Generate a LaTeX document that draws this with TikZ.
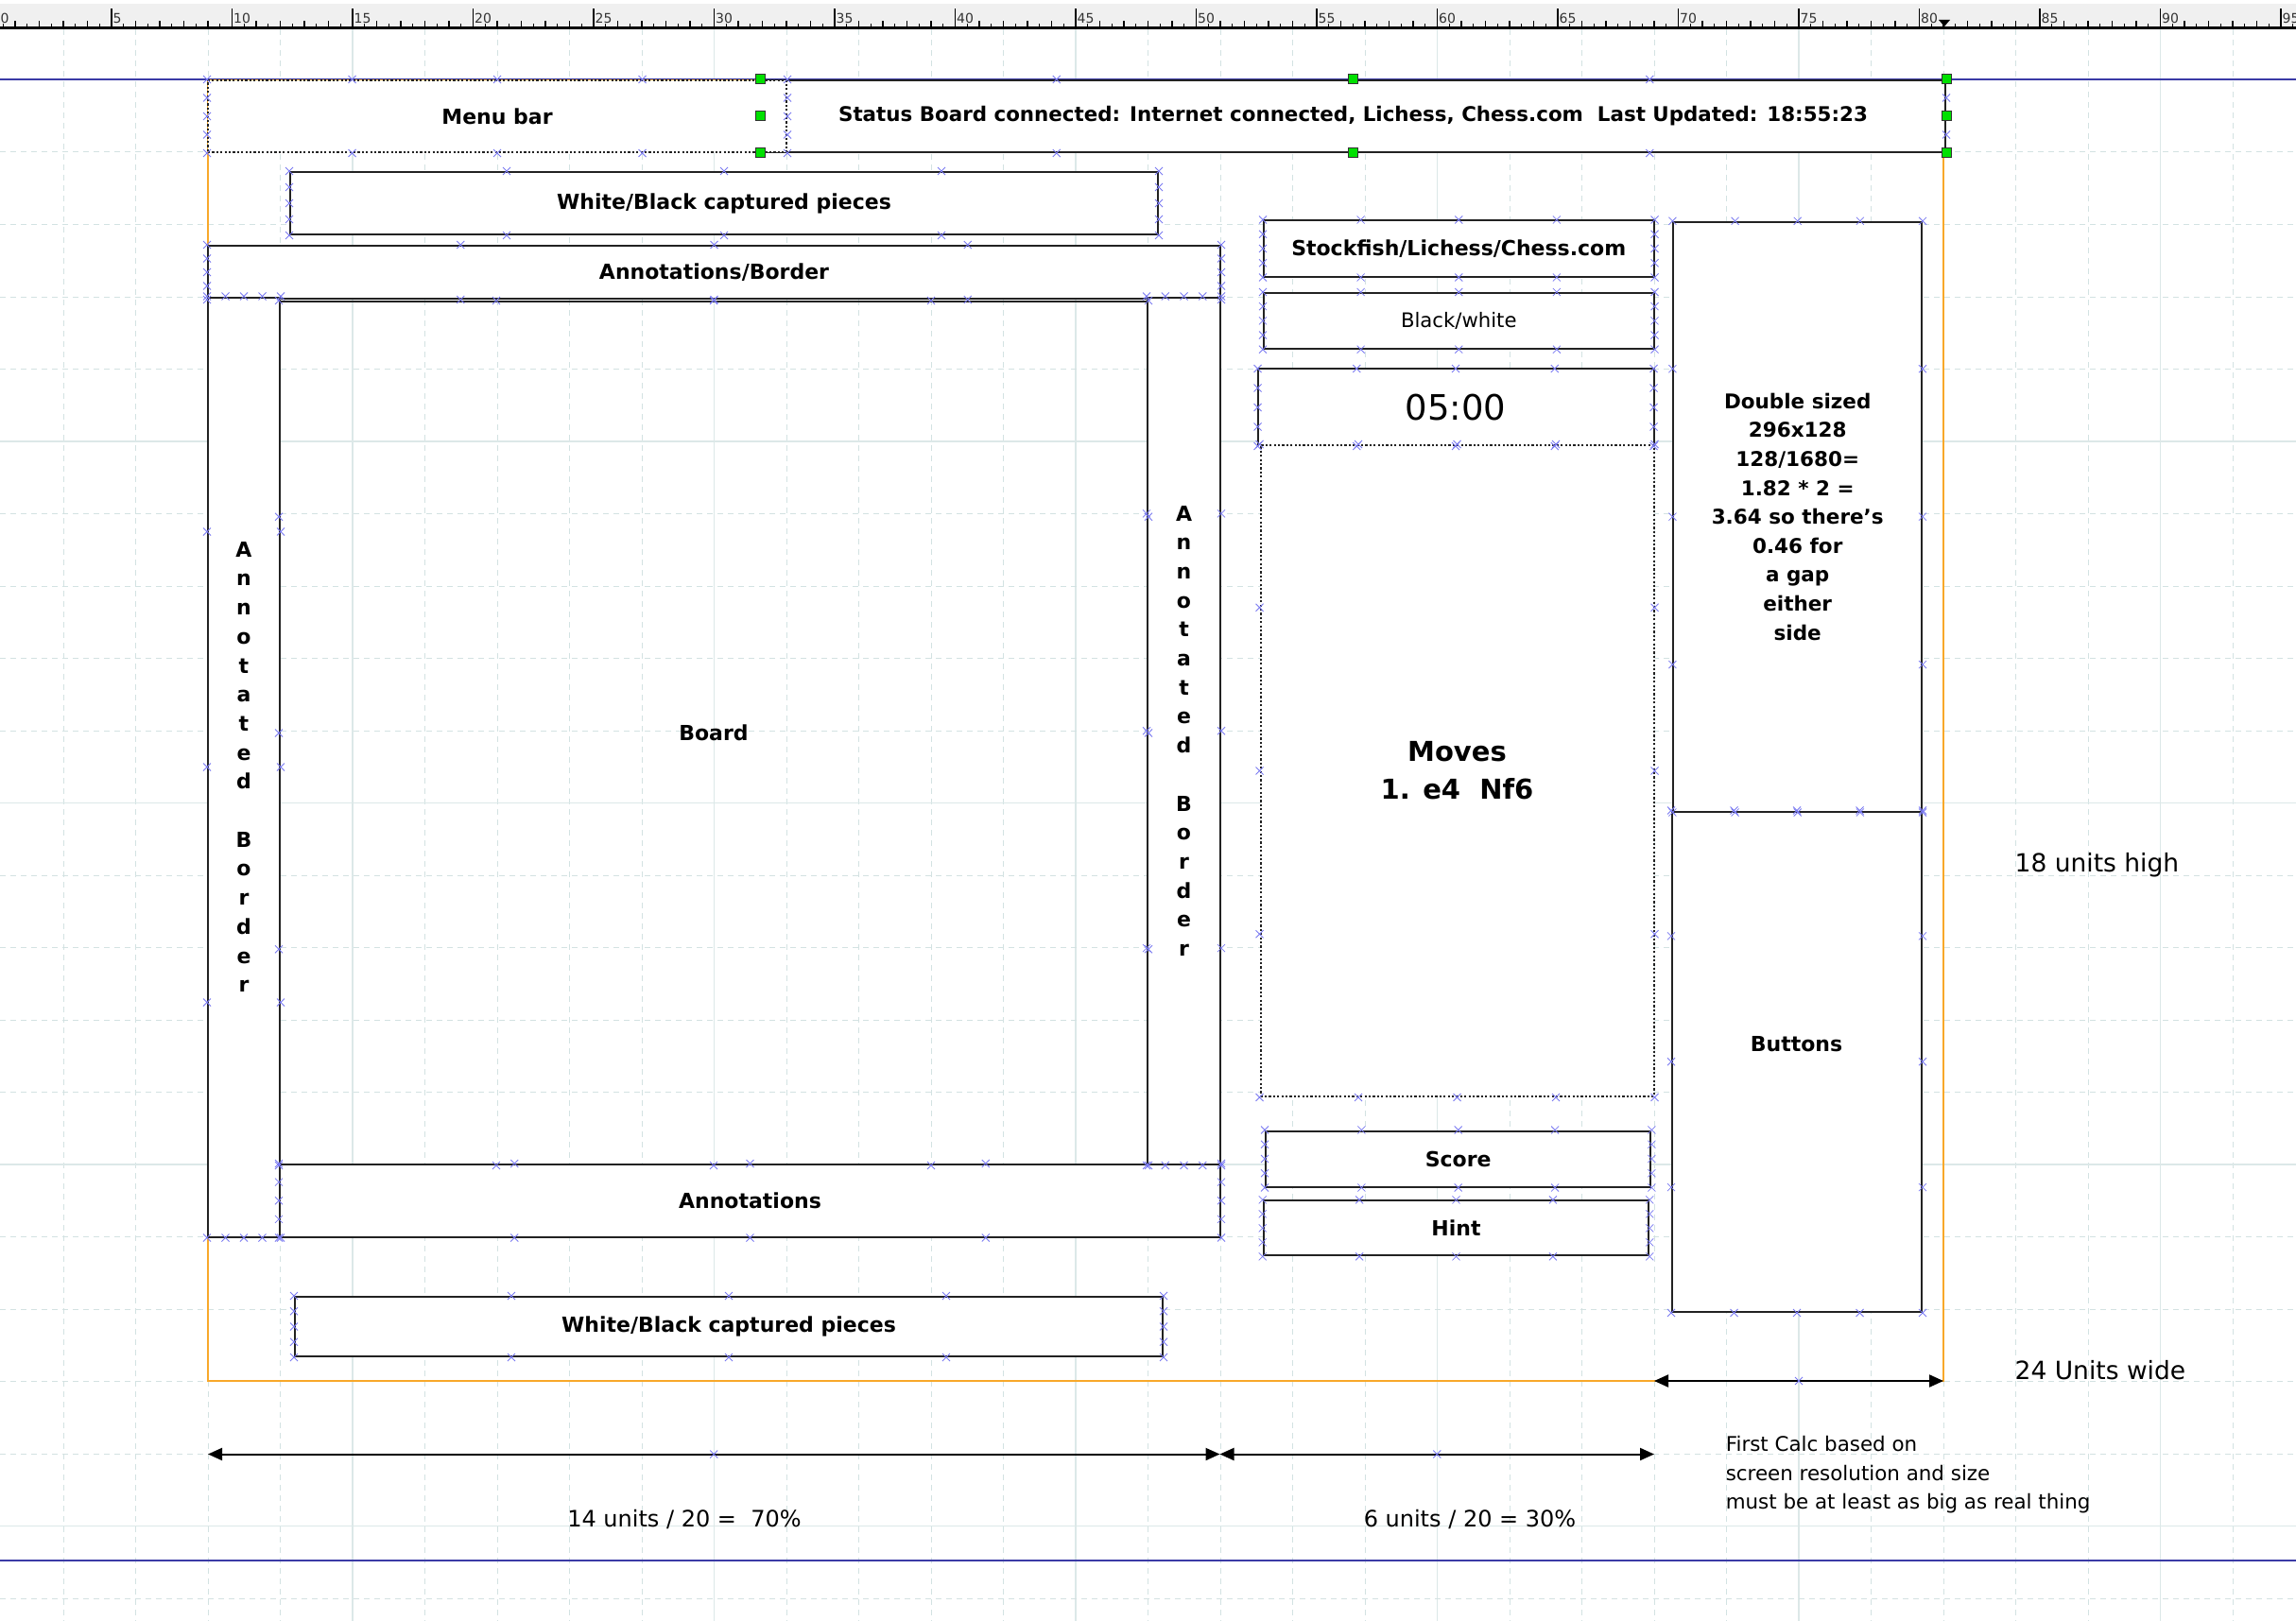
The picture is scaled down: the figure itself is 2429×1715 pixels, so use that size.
\documentclass[tikz,border=0pt]{standalone}
\usepackage{fontspec}
\setmainfont{DejaVu Sans}
\usetikzlibrary{arrows.meta,calc}

\definecolor{gridminor}{HTML}{D3E2E2}
\definecolor{gridmajor}{HTML}{DCE8E8}
\definecolor{pageblue}{HTML}{3B3BA6}
\definecolor{frameorange}{HTML}{F8A82A}
\definecolor{handlegreen}{HTML}{00E000}
\definecolor{cptblue}{HTML}{7A7AF2}
\definecolor{rulergray}{HTML}{F0F0F0}
\definecolor{edge}{HTML}{222222}

\newcommand{\fs}[2]{\fontsize{#1}{#2}\selectfont}
\newcommand{\vtext}{A\\n\\n\\o\\t\\a\\t\\e\\d\\[30.7pt]B\\o\\r\\d\\e\\r}
% little x marks on the shape outlines
\newcommand{\cpts}[1]{%
  \foreach \fr in {0,0.25,0.5,0.75,1}{
    \draw[cpt] ($(#1.north west)!\fr!(#1.north east)$) +(-4,-4) -- +(4,4) +(-4,4) -- +(4,-4);
    \draw[cpt] ($(#1.south west)!\fr!(#1.south east)$) +(-4,-4) -- +(4,4) +(-4,4) -- +(4,-4);
  }
  \foreach \fr in {0.25,0.5,0.75}{
    \draw[cpt] ($(#1.north west)!\fr!(#1.south west)$) +(-4,-4) -- +(4,4) +(-4,4) -- +(4,-4);
    \draw[cpt] ($(#1.north east)!\fr!(#1.south east)$) +(-4,-4) -- +(4,4) +(-4,4) -- +(4,-4);
  }}

\tikzset{
  box/.style={draw=edge, line width=2pt, fill=white, inner sep=0pt, align=center, font=\bfseries\fs{22}{26}},
  dotbox/.style={box, dash pattern=on 2.2pt off 2.2pt},
  plain/.style={font=\fs{21.2}{26}},
  note/.style={inner sep=0pt, font=\fs{24}{30}},
  dim/.style={line width=2pt, {Triangle[length=15pt,width=13pt]}-{Triangle[length=15pt,width=13pt]}},
  handle/.style={fill=handlegreen, draw=black!80, line width=1pt},
  cpt/.style={draw=cptblue, line width=0.8pt},
}

\begin{document}
\begin{tikzpicture}[x=1pt,y=-1pt]
  \useasboundingbox (0,0) rectangle (2429,1715);
  \fill[white] (0,0) rectangle (2429,1715);

  % ruler
  \fill[rulergray] (0,4) rectangle (2429,28.5);
  \foreach \ru in {0,...,95}{
    \draw[line width=1.2pt] ({-9.5+25.5*\ru},28.5) -- ++(0,-6);
    \draw[line width=1.2pt] ({3.25+25.5*\ru},28.5) -- ++(0,-3);
  }
  \foreach \ru in {5,10,...,95}{
    \draw[line width=1.2pt] ({-9.5+25.5*\ru},28.5) -- ++(0,-19);
    \node[anchor=base west, inner sep=0pt, font=\fs{14}{16}, text=black!80] (r\ru) at ({-8+25.5*\ru},25) {\ru};
  }
  \node[anchor=base west, inner sep=0pt, font=\fs{14}{16}, text=black!80] (r0) at (0.5,25) {0};
  \draw[line width=2.5pt] (0,29.5) -- (2429,29.5);
  \fill (2051,21) -- (2063,21) -- (2057,28) -- cycle;

  % grid
  \foreach \gk in {1,...,31}
    \draw[gridminor, line width=1pt, dash pattern=on 6pt off 5pt] ({-9.5+76.5*\gk},31) -- ++(0,1685);
  \foreach \gk in {5,10,...,30}
    \draw[gridmajor, line width=1.2pt] ({-9.5+76.5*\gk},31) -- ++(0,1685);
  \foreach \gj in {0,...,21}
    \draw[gridminor, line width=1pt, dash pattern=on 6pt off 5pt] (0,{84.5+76.5*\gj}) -- ++(2429,0);
  \foreach \gj in {5,10,...,20}
    \draw[gridmajor, line width=1.2pt] (0,{84.5+76.5*\gj}) -- ++(2429,0);

  % page border and screen frame
  \draw[pageblue, line width=2pt] (0,84.5) -- (2429,84.5);
  \draw[pageblue, line width=2pt] (0,1651) -- (2429,1651);
  \draw[frameorange, line width=1.5pt] (220,85) rectangle (2056,1461);

  % top bars
  \node[box, minimum width=1253pt, minimum height=76pt, font=\bfseries\fs{21.4}{26}] (status) at (1431.5,123) {Status Board connected: Internet connected, Lichess, Chess.com\ \ Last Updated: 18:55:23};
  \cpts{status}
  \node[dotbox, minimum width=612pt, minimum height=76pt] (menu) at (526,123) {Menu bar};

  % board column
  \node[box, minimum width=918pt, minimum height=66pt] (capTop) at (766,215) {White/Black captured pieces};
  \node[box, minimum width=1071pt, minimum height=56pt] (annTop) at (755.5,288) {Annotations/Border};
  \node[box, minimum width=76pt, minimum height=994pt, font=\bfseries\fs{22}{30.7}] (leftBorder) at (258,811.5) {\vtext};
  \node[box, fill=none, minimum width=918pt, minimum height=913pt] (board) at (755,775.5) {Board};
  \node[box, minimum width=77pt, minimum height=917.5pt, font=\bfseries\fs{22}{30.7}] (rightBorder) at (1252.5,773.25) {\vtext};
  \node[box, minimum width=995pt, minimum height=76.5pt] (annBot) at (793.5,1270.25) {Annotations};
  \node[box, minimum width=918pt, minimum height=63pt] (capBot) at (771,1403.5) {White/Black captured pieces};

  % side column
  \node[box, minimum width=412.5pt, minimum height=59pt] (engine) at (1543.25,263) {Stockfish/Lichess/Chess.com};
  \node[box, plain, minimum width=412.5pt, minimum height=58.7pt] (side) at (1543.25,339.35) {Black/white};
  \node[box, draw=none, minimum width=417pt, minimum height=80pt, font=\fs{37}{40}] (clock) at (1540,431) {05:00};
  \draw[line width=2pt, edge] (clock.south west) |- (clock.north east) -- (clock.south east);
  \node[dotbox, minimum width=416pt, minimum height=689pt, font=\bfseries\fs{29}{40}] (moves) at (1541.5,815.5) {Moves\\1. e4\ \ Nf6};
  \node[box, minimum width=407.4pt, minimum height=59pt] (score) at (1542.7,1226) {Score};
  \node[box, minimum width=407.5pt, minimum height=58pt] (hint) at (1540.5,1299.35) {Hint};

  % buttons column
  \node[box, minimum width=262.6pt, minimum height=623.7pt, font=\bfseries\fs{21.5}{30.6}] (calcNote) at (1901.7,546.65) {Double sized\\296x128\\128/1680=\\1.82 * 2 =\\3.64 so there's\\0.46 for\\a gap\\either\\side};
  \node[box, minimum width=264pt, minimum height=529.5pt] (buttons) at (1901,1123.25) {};
  \node[inner sep=0pt, font=\bfseries\fs{22}{26}] (buttonsLbl) at (1900.5,1105) {Buttons};

  \foreach \bx in {menu,capTop,annTop,leftBorder,board,rightBorder,annBot,capBot,engine,side,clock,moves,score,hint,calcNote,buttons}
    \cpts{\bx};

  % widths
  \coordinate (wL) at (220,1538.5);
  \coordinate (wM) at (1290.5,1538.5);
  \coordinate (wR) at (1750,1538.5);
  \coordinate (sL) at (1750,1461);
  \coordinate (sR) at (2056,1461);
  \draw[dim] (wL) -- (wM);
  \draw[dim] (wM) -- (wR);
  \draw[dim] (sL) -- (sR);
  \draw[cpt] ($(wL)!0.5!(wM)$) +(-4,-4) -- +(4,4) +(-4,4) -- +(4,-4);
  \draw[cpt] ($(wM)!0.5!(wR)$) +(-4,-4) -- +(4,4) +(-4,4) -- +(4,-4);
  \draw[cpt] ($(sL)!0.5!(sR)$) +(-4,-4) -- +(4,4) +(-4,4) -- +(4,-4);

  \node[note] (lblBoard) at (724,1607) {14 units / 20 =\ \ 70\%};
  \node[note] (lblSide) at (1555,1607) {6 units / 20 = 30\%};
  \node[note, font=\fs{26.5}{30}, anchor=west] (lblHigh) at (2131.5,915) {18 units high};
  \node[note, font=\fs{26.5}{30}, anchor=west] (lblWide) at (2131.5,1450) {24 Units wide};
  \node[note, font=\fs{21.4}{30.5}, anchor=west, align=left] (lblCalc) at (1825.6,1560.5) {First Calc based on\\screen resolution and size\\must be at least as big as real thing};

  % selection handles
  \foreach \an in {north west,north,north east,east,south east,south,south west,west}
    \filldraw[handle] (status.\an) +(-5,-5) rectangle +(5,5);
\end{tikzpicture}
\end{document}
